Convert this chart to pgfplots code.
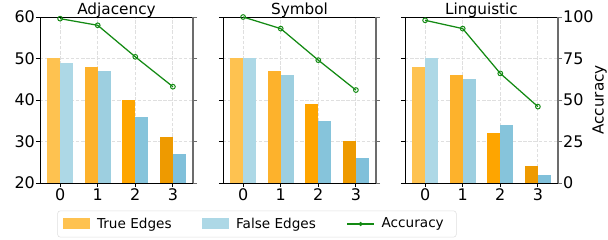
\documentclass[border=0pt]{standalone}
\usepackage{pgfplots}
\pgfplotsset{compat=1.18}
\usepackage{fontspec}
\setmainfont{DejaVu Sans}
\definecolor{oa}{HTML}{FEC250}
\definecolor{ob}{HTML}{FDB22C}
\definecolor{oc}{HTML}{FEA500}
\definecolor{od}{HTML}{EE9A00}
\definecolor{ba}{HTML}{ADD8E6}
\definecolor{bb}{HTML}{9DCFE0}
\definecolor{bc}{HTML}{86C4DB}
\definecolor{bd}{HTML}{80C0DA}
\definecolor{accg}{HTML}{138A13}
\definecolor{accf}{HTML}{5CB85C}
\newcommand\pair[5]{%
  \addplot[ybar,bar width=0.35,bar shift=-0.175,fill=#2,draw=none,forget plot] coordinates {(#1,#4)};
  \addplot[ybar,bar width=0.35,bar shift=0.175,fill=#3,draw=none,forget plot] coordinates {(#1,#5)};}
\pgfplotsset{
  common/.style={scale only axis, width=110.16pt, height=119.52pt,
    xmin=-0.535, xmax=3.535, xtick={0,1,2,3},
    tick align=outside, major tick length=3pt,
    tick style={black, line width=0.6pt},
    axis line style={line width=0.6pt},
    tick label style={font=\fontsize{11.5}{13}\selectfont},
    yticklabel style={inner xsep=0.5pt},
    xticklabel style={inner ysep=1pt},
    /pgf/number format/assume math mode=true,
    anchor=south west},
  panel/.style={common, ymin=20, ymax=60, ytick={20,30,40,50,60},
    xtick pos=bottom, ytick pos=left,
    grid=major, grid style={dash pattern=on 2.5pt off 1.2pt, gray!25, line width=0.6pt},
    every axis title/.style={at={(axis description cs:0.5,1)}, anchor=base,
      yshift=2pt, font=\fontsize{11}{13}\selectfont}},
  acc/.style={common, ymin=0, ymax=100, ytick={0,25,50,75,100},
    axis x line=none, axis y line*=right, clip=false,
    y axis line style={draw=gray!85!black, line width=1.1pt},
    ytick style={gray!85!black, line width=0.6pt}},
  accline/.style={color=accg, line width=0.9pt, mark=o, mark size=1.7pt,
    mark options={fill=accf, line width=0.7pt}},
}
\begin{document}
\begin{tikzpicture}
\path[use as bounding box] (0,0) rectangle (437.76pt,172.8pt);
% ---------- Adjacency ----------
\begin{axis}[panel, at={(28.8pt,41.04pt)}, title={Adjacency},
  legend columns=3,
  legend style={at={(1.418,-0.247)}, anchor=center, draw=gray!25, rounded corners=2pt,
    font=\fontsize{9.8}{11}\selectfont, inner xsep=4pt, inner ysep=3pt,
    /tikz/every even column/.append style={column sep=17pt},
    nodes={inner xsep=5pt}}]
\addlegendimage{legend image code/.code={\fill[draw=none, sharp corners, fill=oa] (0pt,-3.8pt) rectangle (19.4pt,4.2pt);}}
\addlegendentry{True Edges}
\addlegendimage{legend image code/.code={\fill[draw=none, sharp corners, fill=ba] (0pt,-3.8pt) rectangle (19.4pt,4.2pt);}}
\addlegendentry{False Edges}
\addlegendimage{legend image code/.code={\draw[accg, sharp corners, line width=0.9pt] (0pt,0pt) -- (19.4pt,0pt);
  \fill[accg] (9.7pt,0pt) circle (1.3pt);}}
\addlegendentry{Accuracy}
\pair{0}{oa}{ba}{50}{49}
\pair{1}{ob}{bb}{48}{47}
\pair{2}{oc}{bc}{40}{36}
\pair{3}{od}{bd}{31}{27}
\node[rotate=90, inner sep=0pt, font=\fontsize{11}{13}\selectfont] at (rel axis cs:-0.2,0.5) {Value};
\end{axis}
\begin{axis}[acc, at={(28.8pt,41.04pt)}, yticklabels={}]
\addplot[accline] coordinates {(0,99) (1,95) (2,76) (3,58)};
\end{axis}
% ---------- Symbol ----------
\begin{axis}[panel, at={(160.56pt,41.04pt)}, title={Symbol}, yticklabels={}]
\pair{0}{oa}{ba}{50}{50}
\pair{1}{ob}{bb}{47}{46}
\pair{2}{oc}{bc}{39}{35}
\pair{3}{od}{bd}{30}{26}
\end{axis}
\begin{axis}[acc, at={(160.56pt,41.04pt)}, yticklabels={}]
\addplot[accline] coordinates {(0,100) (1,93) (2,74) (3,56)};
\end{axis}
% ---------- Linguistic ----------
\begin{axis}[panel, at={(291.6pt,41.04pt)}, title={Linguistic}, yticklabels={}]
\pair{0}{oa}{ba}{48}{50}
\pair{1}{ob}{bb}{46}{45}
\pair{2}{oc}{bc}{32}{34}
\pair{3}{od}{bd}{24}{22}
\end{axis}
\begin{axis}[acc, at={(291.6pt,41.04pt)}]
\addplot[accline] coordinates {(0,98) (1,93) (2,66) (3,46)};
\node[rotate=90, inner sep=0pt, font=\fontsize{11}{13}\selectfont] at (rel axis cs:1.272,0.5) {Accuracy};
\end{axis}
\end{tikzpicture}
\end{document}
